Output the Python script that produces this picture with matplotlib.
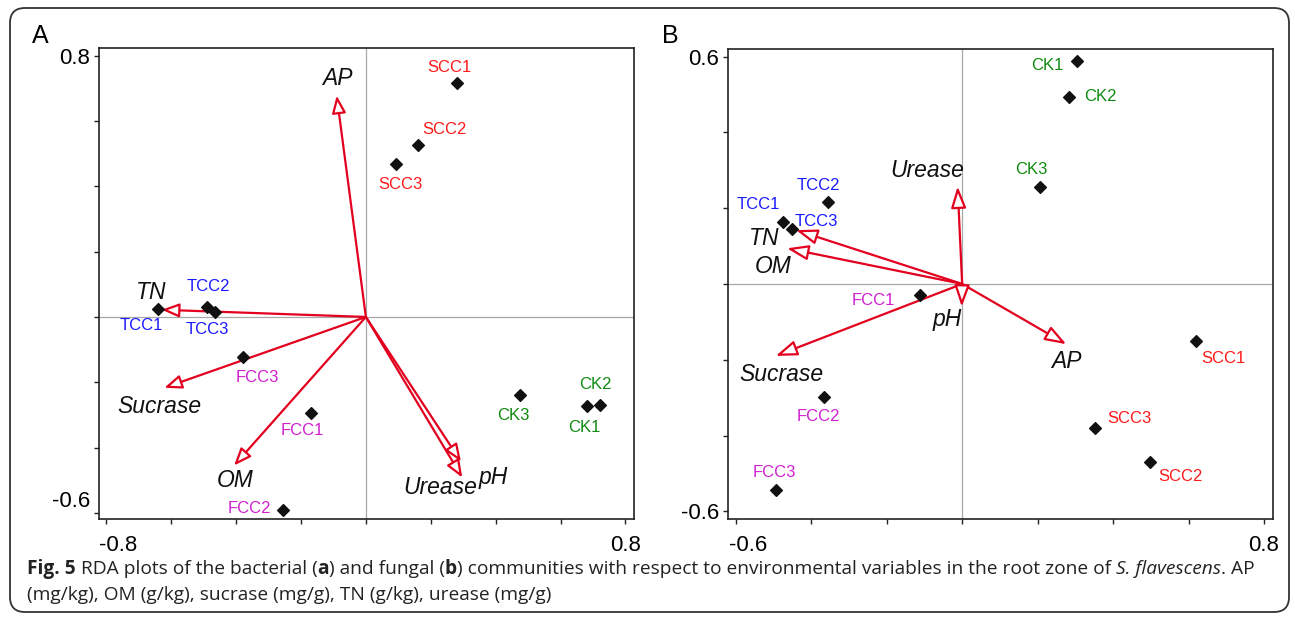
import matplotlib
matplotlib.use("Agg")
import matplotlib.pyplot as plt
from matplotlib.patches import FancyBboxPatch
from matplotlib.transforms import ScaledTranslation

plt.rcParams['font.family'] = ['Liberation Sans', 'DejaVu Sans']

# sample scores
samples = ['CK1', 'CK2', 'CK3', 'TCC1', 'TCC2', 'TCC3',
           'FCC1', 'FCC2', 'FCC3', 'SCC1', 'SCC2', 'SCC3']
a_x = [0.682, 0.721, 0.474, -0.641, -0.490, -0.465, -0.170, -0.256, -0.378, 0.281, 0.160, 0.093]
a_y = [-0.273, -0.269, -0.240, 0.025, 0.030, 0.014, -0.294, -0.592, -0.122, 0.716, 0.527, 0.468]
b_x = [0.304, 0.284, 0.206, -0.476, -0.356, -0.450, -0.113, -0.367, -0.492, 0.620, 0.499, 0.352]
b_y = [0.588, 0.494, 0.257, 0.164, 0.215, 0.146, -0.029, -0.297, -0.544, -0.150, -0.471, -0.381]

# environmental variable arrows
env = ['AP', 'OM', 'Sucrase', 'TN', 'Urease', 'pH']
a_env_x = [-0.090, -0.406, -0.621, -0.629, 0.297, 0.293]
a_env_y = [0.678, -0.455, -0.217, 0.022, -0.492, -0.443]
b_env_x = [0.276, -0.464, -0.494, -0.440, -0.012, -0.001]
b_env_y = [-0.159, 0.094, -0.190, 0.142, 0.257, -0.060]

a_xticks = [-0.8, -0.6, -0.4, -0.2, 0, 0.2, 0.4, 0.6, 0.8]
a_yticks = [-0.6, -0.4, -0.2, 0, 0.2, 0.4, 0.6, 0.8]
b_xticks = [-0.6, -0.4, -0.2, 0, 0.2, 0.4, 0.6, 0.8]
b_yticks = [-0.6, -0.4, -0.2, 0, 0.2, 0.4, 0.6]

# caption pieces: (text, weight, style)
caption1 = [('Fig. 5', 'bold', 'normal'), (' RDA plots of the bacterial (', 'normal', 'normal'),
            ('a', 'bold', 'normal'), (') and fungal (', 'normal', 'normal'),
            ('b', 'bold', 'normal'),
            (') communities with respect to environmental variables in the root zone of ', 'normal', 'normal'),
            ('S. flavescens', 'normal', 'italic'), ('. AP', 'normal', 'normal')]
caption2 = [('(mg/kg), OM (g/kg), sucrase (mg/g), TN (g/kg), urease (mg/g)', 'normal', 'normal')]

group_colors = {'CK': '#108a10', 'TCC': '#1a1aff', 'FCC': '#d020d0', 'SCC': '#ff1a1a'}
arrow_red = '#e3001f'

# label offsets in pixels (right, down)
a_lab_off = {'CK1': (-3, 21), 'CK2': (-4.5, -20), 'CK3': (-6, 20),
             'TCC1': (-16.6, 16.7), 'TCC2': (2, -20.6), 'TCC3': (-8, 17),
             'FCC1': (-8, 17.3), 'FCC2': (-33, -1.6), 'FCC3': (14.4, 21),
             'SCC1': (-7.4, -15.3), 'SCC2': (27, -15.7), 'SCC3': (4.8, 20)}
b_lab_off = {'CK1': (-30, 4), 'CK2': (31, 0), 'CK3': (-8.7, -17.4),
             'TCC1': (-24.3, -17.4), 'TCC2': (-9, -17), 'TCC3': (24.3, -7),
             'FCC1': (-46, 6), 'FCC2': (-5, 20), 'FCC3': (-1.7, -17.3),
             'SCC1': (27.5, 17.3), 'SCC2': (30, 14.4), 'SCC3': (34, -10)}
a_env_off = {'AP': (0.8, -16.7), 'OM': (0.8, 15), 'Sucrase': (-5, 19),
             'TN': (-10.7, -17.3), 'Urease': (-22.4, 10), 'pH': (32, 15.5)}
b_env_off = {'AP': (0.4, 17.4), 'OM': (-13.6, 18.4), 'Sucrase': (5.3, 18.3),
             'TN': (-31.6, 8.3), 'Urease': (-30, -15.7), 'pH': (-15, 13.3)}

fig = plt.figure(figsize=(12.95, 6.22), dpi=100)
axA = fig.add_axes([0.0768, 0.1651, 0.4127, 0.7572])
axB = fig.add_axes([0.5623, 0.1651, 0.4208, 0.7556])


def draw_panel(ax, xs, ys, ex, ey, lab_off, env_off, xticks, yticks, xlim, ylim, head):
    ax.set_xlim(xlim)
    ax.set_ylim(ylim)
    ax.axhline(0, color='#a8a8a8', lw=0.9, zorder=1)
    ax.axvline(0, color='#a8a8a8', lw=0.9, zorder=1)
    hl, hw = head
    for name, x, y in zip(env, ex, ey):
        ax.annotate('', xy=(x, y), xytext=(0, 0),
                    arrowprops=dict(arrowstyle='-|>,head_length=%s,head_width=%s' % (hl, hw),
                                    mutation_scale=10, fc='white', ec=arrow_red,
                                    lw=1.6, shrinkA=0, shrinkB=0), zorder=3)
        dx, dy = env_off[name]
        ax.annotate(name, (x, y), xytext=(dx, -dy), textcoords='offset pixels',
                    ha='center', va='center', fontsize=16.5, style='italic',
                    color='#111111', zorder=5)
    ax.scatter(xs, ys, marker='D', s=36, color='#111111', zorder=4)
    for name, x, y in zip(samples, xs, ys):
        dx, dy = lab_off[name]
        col = group_colors[name.rstrip('0123456789')]
        ax.annotate(name, (x, y), xytext=(dx, -dy), textcoords='offset pixels',
                    ha='center', va='center', fontsize=12, color=col, zorder=5)
    ax.set_xticks(xticks)
    ax.set_yticks(yticks)
    ax.set_xticklabels(['%g' % xticks[0]] + [''] * (len(xticks) - 2) + ['%g' % xticks[-1]])
    ax.set_yticklabels(['%g' % yticks[0]] + [''] * (len(yticks) - 2) + ['%g' % yticks[-1]])
    ax.tick_params(axis='both', direction='out', length=3.5, width=1, labelsize=16,
                   color='#222222')
    ax.tick_params(axis='x', pad=8)
    ax.tick_params(axis='y', pad=3)
    for s in ax.spines.values():
        s.set_color('#222222')
        s.set_linewidth(1.2)


draw_panel(axA, a_x, a_y, a_env_x, a_env_y, a_lab_off, a_env_off,
           a_xticks, a_yticks, (-0.821, 0.826), (-0.620, 0.823), (1.05, 0.42))
draw_panel(axB, b_x, b_y, b_env_x, b_env_y, b_lab_off, b_env_off,
           b_xticks, b_yticks, (-0.620, 0.824), (-0.621, 0.619), (1.3, 0.46))

# bottom y label in panel A sits a bit above its tick
lab = axA.get_yticklabels()[0]
lab.set_transform(lab.get_transform() + ScaledTranslation(0, 0.14, fig.dpi_scale_trans))
for ax in (axA, axB):
    ax.get_xticklabels()[0].set_ha('left')
    lab = ax.get_xticklabels()[0]
    lab.set_transform(lab.get_transform() + ScaledTranslation(-0.07, 0, fig.dpi_scale_trans))

fig.text(40 / 1295, 1 - 36 / 622, 'A', fontsize=18, ha='center', va='center')
fig.text(670 / 1295, 1 - 36 / 622, 'B', fontsize=18, ha='center', va='center')


def caption_line(pieces, x_px, y_px, size):
    renderer = fig.canvas.get_renderer()
    x = x_px
    for txt, weight, style in pieces:
        t = fig.text(x / 1295, 1 - y_px / 622, txt, fontsize=size, family='Open Sans',
                     weight=weight, style=style, ha='left', va='baseline', color='#222222')
        x += t.get_window_extent(renderer).width


caption_line(caption1, 27, 574, 13.75)
caption_line(caption2, 27, 600, 13.75)

border = FancyBboxPatch((0.10, 0.10), 12.79, 6.04, boxstyle='round,pad=0,rounding_size=0.15',
                        transform=fig.dpi_scale_trans, fill=False, ec='#333333', lw=1.3)
fig.patches.append(border)

fig.savefig('out.png', dpi=100)
